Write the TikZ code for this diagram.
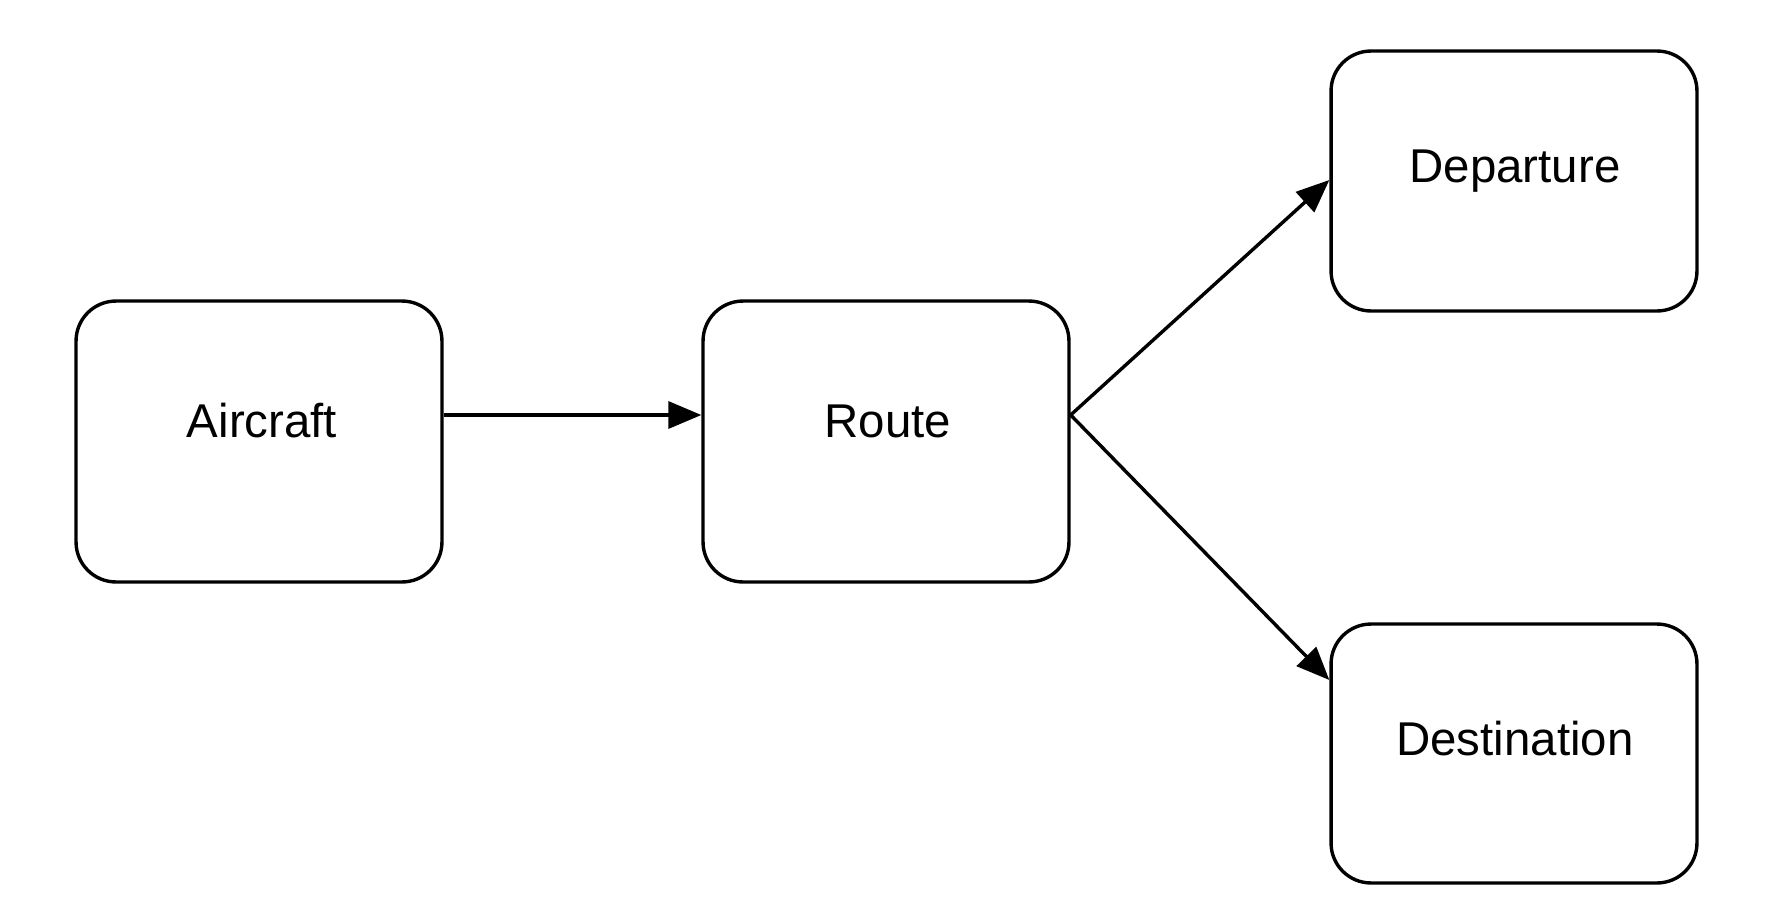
\documentclass[tikz,border=0pt]{standalone}
\usepackage{fontspec}
\setmainfont{Liberation Sans}
\usetikzlibrary{arrows.meta,calc}
\begin{document}
\begin{tikzpicture}[x=0.02cm,y=-0.02cm,
  box/.style={draw=black,line width=0.068cm,rounded corners=0.8cm,fill=white,
    minimum width=7.32cm,inner sep=0pt},
  lbl/.style={font=\fontsize{27}{32}\selectfont,inner sep=0pt},
  link/.style={line width=0.068cm,-{Triangle[length=0.66cm,width=0.54cm]}}]
  \useasboundingbox (0,0) rectangle (1782,920);
  % boxes
  \node[box,minimum height=5.62cm] (aircraft) at (259,441.5) {};
  \node[box,minimum height=5.62cm] (route) at (886,441.5) {};
  \node[box,minimum height=5.2cm] (departure) at (1514,181) {};
  \node[box,minimum height=5.18cm] (destination) at (1514,753.5) {};
  % captions
  \node[lbl] (aircraftlbl) at (262,421) {Aircraft};
  \node[lbl] (routelbl) at (888,421) {Route};
  \node[lbl] (departurelbl) at (1515,171) {Departure};
  \node[lbl] (destinationlbl) at (1515,739) {Destination};
  % attachment points
  \coordinate (aout) at (aircraft.east |- 0,415);
  \coordinate (rin) at (route.west |- 0,415);
  \coordinate (rout) at (route.east |- 0,415);
  \coordinate (din) at (departure.west |- 0,180);
  \coordinate (tin) at (destination.west |- 0,680);
  % connectors
  \draw[link] (aout) -- (rin);
  \draw[link] (rout) -- (din);
  \draw[link] (rout) -- (tin);
\end{tikzpicture}
\end{document}
